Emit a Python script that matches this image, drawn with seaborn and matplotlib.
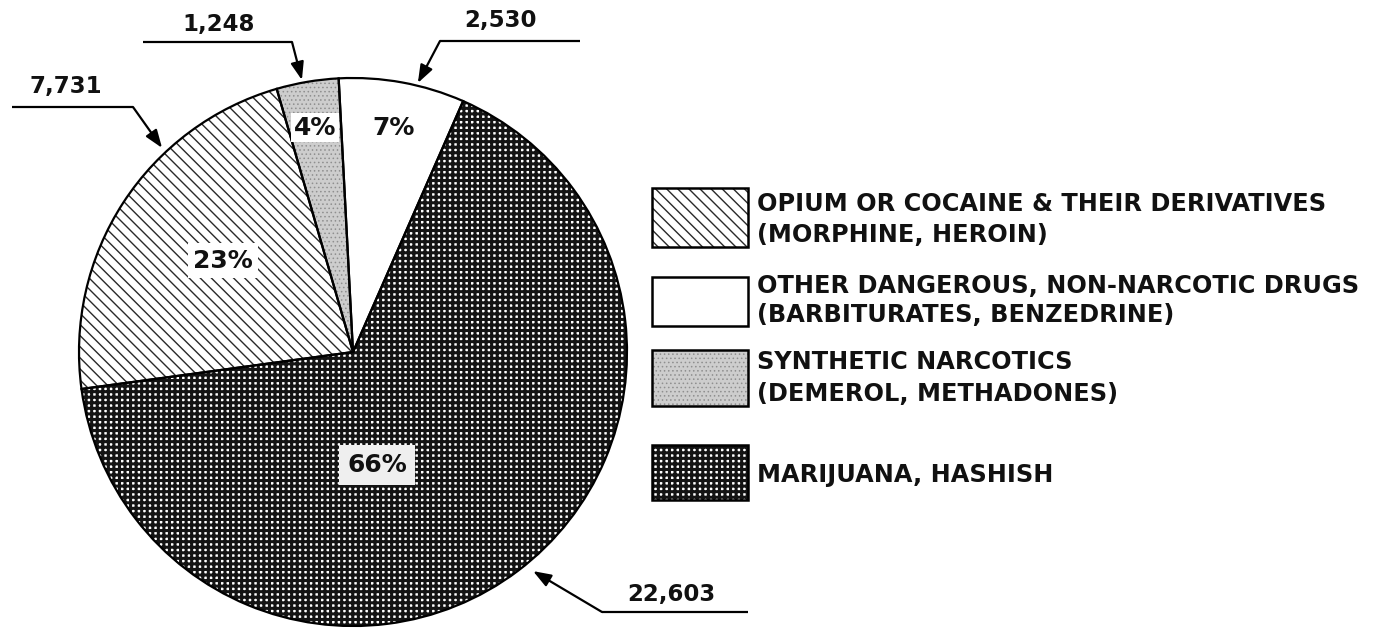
import numpy as np
import matplotlib
matplotlib.use("Agg")
import matplotlib.pyplot as plt
import seaborn as sns
from matplotlib.patches import Rectangle

# Drug arrests by type of drug, slices clockwise from the top
categories = ["other", "marijuana", "opium", "synthetic"]
counts = [2530, 22603, 7731, 1248]
count_labels = ["2,530", "22,603", "7,731", "1,248"]

# legend text, top to bottom
legend_keys = ["opium", "other", "synthetic", "marijuana"]
legend_titles = ["OPIUM OR COCAINE & THEIR DERIVATIVES",
                 "OTHER DANGEROUS, NON-NARCOTIC DRUGS",
                 "SYNTHETIC NARCOTICS",
                 "MARIJUANA, HASHISH"]
legend_subtitles = ["(MORPHINE, HEROIN)",
                    "(BARBITURATES, BENZEDRINE)",
                    "(DEMEROL, METHADONES)",
                    ""]

# fill styles (face colour, hatch, hatch colour, hatch linewidth)
STYLE = {
    "other": dict(face="white", hatch="", hcolor="black", hlw=1.0),
    "marijuana": dict(face="white", hatch="+++", hcolor="#141414", hlw=2.2),
    "opium": dict(face="white", hatch="\\\\\\", hcolor="#2a2a2a", hlw=1.0),
    "synthetic": dict(face="#cdcdcd", hatch="....", hcolor="#8f8f8f", hlw=0.6),
}

sns.set_theme(style="white")
plt.rcParams["font.family"] = ["DejaVu Sans"]
plt.rcParams["hatch.linewidth"] = 1.0

W, H = 1393, 631
CX, CY, R = 353, 352, 274
START = 93


def px(x, y):
    # pixel position in the picture -> data units (pie radius = 1)
    return (x - CX) / R, (CY - y) / R


def styled(patch, key):
    st = STYLE[key]
    patch.set_facecolor(st["face"])
    patch.set_hatch(st["hatch"])
    patch.set_edgecolor(st["hcolor"])
    patch.set_linewidth(0)
    if hasattr(patch, "set_hatch_linewidth"):
        patch.set_hatch_linewidth(st["hlw"])


fig = plt.figure(figsize=(W / 100, H / 100), dpi=100)
ax = fig.add_axes([0, 0, 1, 1])

wedges, _ = ax.pie(counts, startangle=START, counterclock=False, radius=1)
for w, key in zip(wedges, categories):
    styled(w, key)
ax.pie(counts, startangle=START, counterclock=False, radius=1,
       wedgeprops=dict(fill=False, edgecolor="black", linewidth=1.6))

# slice angles (clockwise)
frac = np.array(counts) / np.sum(counts)
ang_start = START - 360 * (np.cumsum(frac) - frac)
ang_end = START - 360 * np.cumsum(frac)

# percentage labels: (angle offset from middle, radius)
pct_place = [(0, 0.83), (-25, 0.42), (-2, 0.58), (0, 0.83)]
pct_box = ["none", "#efefef", "white", "white"]
pct_pad = [0.15, 0.32, 0.22, 0.1]
for i, (off, rr) in enumerate(pct_place):
    a = np.radians((ang_start[i] + ang_end[i]) / 2 + off)
    bb = None
    if pct_box[i] != "none":
        bb = dict(boxstyle=f"square,pad={pct_pad[i]}", facecolor=pct_box[i],
                  edgecolor="none")
    ax.text(rr * np.cos(a), rr * np.sin(a), f"{round(frac[i] * 100)}%",
            ha="center", va="center", fontsize=18, fontweight="bold",
            color="#111111", bbox=bb)

# count call-outs: (fraction along slice, radius of tip, bend px, line end x, text px)
callouts = [
    (0.62, 1.01, (440, 41), 580, (500, 20)),
    (0.49, 1.035, (602, 612), 748, (671, 594)),
    (0.67, 1.02, (133, 107), 12, (66, 87)),
    (0.42, 1.01, (292, 42), 143, (219, 25)),
]
for i, (f, rr, bend, xend, tpos) in enumerate(callouts):
    a = np.radians(ang_start[i] - f * (ang_start[i] - ang_end[i]))
    tip = (rr * np.cos(a), rr * np.sin(a))
    b = px(*bend)
    e = px(xend, bend[1])
    ax.plot([b[0], e[0]], [b[1], e[1]], color="black", lw=1.6, solid_capstyle="butt")
    ax.annotate("", xy=tip, xytext=b,
                arrowprops=dict(arrowstyle="-|>,head_length=0.6,head_width=0.22",
                                color="black", lw=1.6,
                                mutation_scale=18, shrinkA=0, shrinkB=0))
    ax.text(*px(*tpos), count_labels[i], ha="center", va="center",
            fontsize=16.5, fontweight="bold", color="#111111")

# legend boxes: (top, bottom) in px, and text rows
leg_box_y = [(188, 247), (277, 326), (350, 406), (445, 500)]
leg_text_y = [(204, 235), (286, 315), (362, 394), (475, None)]
BX0, BX1, TX = 652, 748, 757
for j, key in enumerate(legend_keys):
    top, bot = leg_box_y[j]
    x0, y0 = px(BX0, bot)
    x1, y1 = px(BX1, top)
    fill = Rectangle((x0, y0), x1 - x0, y1 - y0)
    styled(fill, key)
    ax.add_patch(fill)
    ax.add_patch(Rectangle((x0, y0), x1 - x0, y1 - y0, fill=False,
                           edgecolor="black", linewidth=1.8))
    t1, t2 = leg_text_y[j]
    ax.text(*px(TX, t1), legend_titles[j], ha="left", va="center",
            fontsize=17.3, fontweight="bold", color="#111111")
    if legend_subtitles[j]:
        ax.text(*px(TX, t2), legend_subtitles[j], ha="left", va="center",
                fontsize=17.3, fontweight="bold", color="#111111")

ax.set_xlim(-CX / R, (W - CX) / R)
ax.set_ylim(-(H - CY) / R, CY / R)
ax.set_aspect("auto")
ax.axis("off")

fig.savefig("out.png", dpi=100, facecolor="white")
plt.close(fig)
